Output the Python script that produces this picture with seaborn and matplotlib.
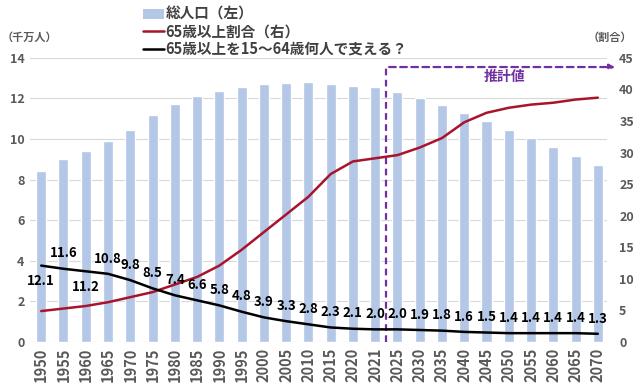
import numpy as np
import pandas as pd
import matplotlib
matplotlib.use("Agg")
import matplotlib.pyplot as plt
import seaborn as sns
from matplotlib.patches import Patch
from matplotlib.lines import Line2D

years = ["1950", "1955", "1960", "1965", "1970", "1975", "1980", "1985", "1990",
         "1995", "2000", "2005", "2010", "2015", "2020", "2021", "2025", "2030",
         "2035", "2040", "2045", "2050", "2055", "2060", "2065", "2070"]
# total population (10 million people), left axis
population = [8.41, 9.01, 9.43, 9.92, 10.47, 11.19, 11.71, 12.10, 12.36, 12.56,
              12.69, 12.78, 12.81, 12.71, 12.61, 12.55, 12.33, 12.01, 11.66,
              11.28, 10.88, 10.47, 10.05, 9.62, 9.16, 8.70]
# share of 65+ (%), right axis
aged_share = [4.9, 5.3, 5.7, 6.3, 7.1, 7.9, 9.1, 10.3, 12.1, 14.6, 17.4, 20.2,
              23.0, 26.6, 28.6, 29.1, 29.6, 30.8, 32.3, 34.8, 36.3, 37.1, 37.6,
              37.9, 38.4, 38.7]
# people aged 15-64 per person aged 65+, right axis
support = [12.1, 11.6, 11.2, 10.8, 9.8, 8.5, 7.4, 6.6, 5.8, 4.8, 3.9, 3.3, 2.8,
           2.3, 2.1, 2.0, 2.0, 1.9, 1.8, 1.6, 1.5, 1.4, 1.4, 1.4, 1.4, 1.3]
below_labels = ["1950", "1960"]

BAR = "#B4C7E7"
RED = "#A8142C"
PURPLE = "#7030A0"
GREY = "#595959"

df = pd.DataFrame({"year": years, "pop": population,
                   "aged": aged_share, "support": support})
df["pos"] = np.arange(len(df))

sns.set_style("white")
plt.rcParams["font.family"] = ["Noto Sans CJK JP", "DejaVu Sans"]

fig = plt.figure(figsize=(6.4, 3.86), dpi=100)
ax = fig.add_axes([0.047, 0.114, 0.901, 0.736])

sns.barplot(data=df, x="year", y="pop", color=BAR, width=0.45,
            saturation=1, ax=ax, zorder=2)
ax.set_ylim(0, 14)
ax.set_yticks(np.arange(0, 15, 2))
ax.set_xlim(-0.5, 25.4)
ax.grid(axis="y", color="#D9D9D9", linewidth=0.8, zorder=0)
ax.set_axisbelow(True)
ax.set_xlabel("")
ax.set_ylabel("")
for s in ax.spines.values():
    s.set_visible(False)
ax.tick_params(axis="x", length=0, pad=4, labelsize=10.5, labelcolor=GREY,
               rotation=90)
ax.tick_params(axis="y", length=0, pad=4, labelsize=9, labelcolor=GREY)
for lab in ax.get_xticklabels() + ax.get_yticklabels():
    lab.set_fontweight("bold")

ax2 = ax.twinx()
sns.lineplot(data=df, x="pos", y="aged", color=RED, linewidth=1.8, ax=ax2,
             zorder=3)
sns.lineplot(data=df, x="pos", y="support", color="black", linewidth=1.8,
             ax=ax2, zorder=3)
ax2.set_ylim(0, 45)
ax2.set_yticks(np.arange(0, 46, 5))
ax2.set_xlim(-0.5, 25.4)
ax2.set_xlabel("")
ax2.set_ylabel("")
for s in ax2.spines.values():
    s.set_visible(False)
ax2.tick_params(axis="y", length=0, pad=9, labelsize=9, labelcolor=GREY)
for lab in ax2.get_yticklabels():
    lab.set_fontweight("bold")

for _, r in df.iterrows():
    dy = -11 if r["year"] in below_labels else 11
    ax2.annotate(f"{r['support']:.1f}", (r["pos"], r["support"]),
                 xytext=(0, dy), textcoords="offset points", ha="center",
                 va="center", fontsize=9.5, fontweight="bold", color="black",
                 zorder=5)

# projection marker
split = 15.5
ax.plot([split, split], [0, 13.55], color=PURPLE, linestyle=(0, (3, 2)),
        linewidth=1.6, zorder=4)
ax.annotate("", xy=(25.9, 13.55), xytext=(split, 13.55),
            arrowprops=dict(arrowstyle="-|>", color=PURPLE, linewidth=1.6,
                            linestyle=(0, (3, 2)), mutation_scale=8),
            annotation_clip=False, zorder=4)
ax.text(20.8, 13.05, "推計値", color=PURPLE, fontsize=10, fontweight="bold",
        ha="center", va="center", zorder=5)

fig.text(0.003, 0.903, "（千万人）", fontsize=8, fontweight="bold",
         color=GREY, ha="left", va="center")
fig.text(0.988, 0.903, "（割合）", fontsize=8, fontweight="bold",
         color=GREY, ha="right", va="center")

handles = [Patch(facecolor=BAR, edgecolor="none"),
           Line2D([0], [0], color=RED, linewidth=1.8),
           Line2D([0], [0], color="black", linewidth=1.8)]
labels = ["総人口（左）", "65歳以上割合（右）", "65歳以上を15～64歳何人で支える？"]
leg = fig.legend(handles, labels, loc="upper left",
                 bbox_to_anchor=(0.215, 1.0), frameon=False, fontsize=10.5,
                 handlelength=1.4, handletextpad=0.1, labelspacing=0.1,
                 borderaxespad=0)
for t in leg.get_texts():
    t.set_color("#404040")
    t.set_fontweight("bold")

fig.savefig("out.png", dpi=100)
